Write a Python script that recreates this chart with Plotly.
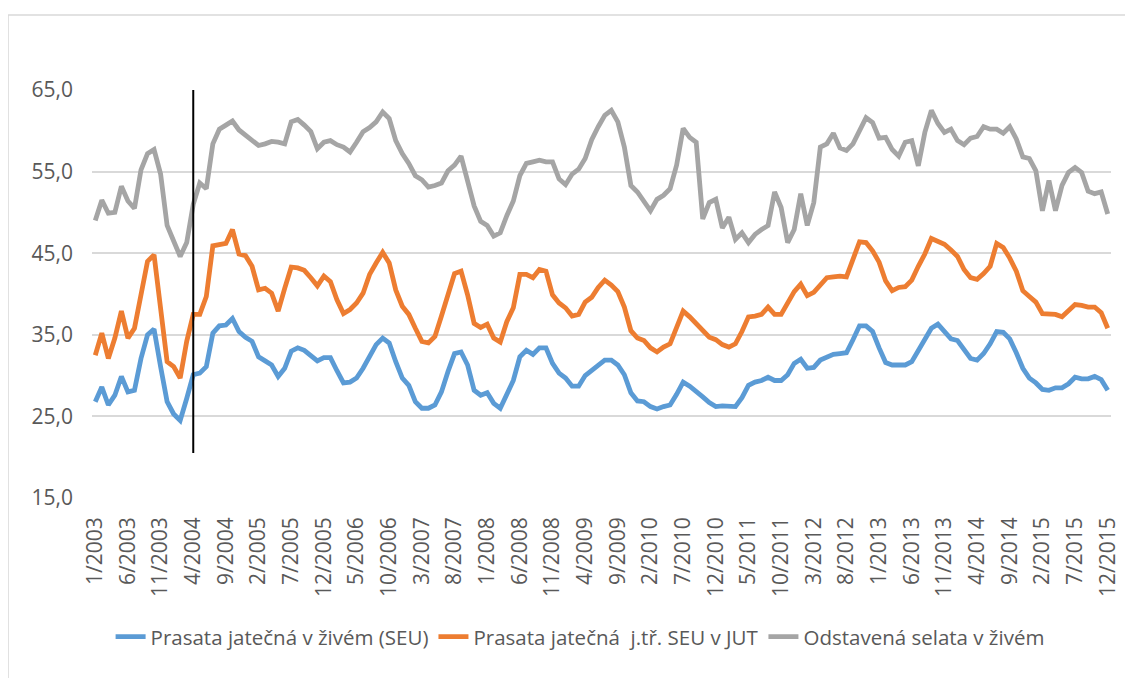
import plotly.graph_objects as go

years = list(range(2003, 2016))
months = [f"{m}/{y}" for y in years for m in range(1, 13)]

seu_live = [
    26.8, 28.6, 26.4, 27.6, 29.9, 28.0, 28.2, 32.1, 35.0, 35.7, 31.1, 26.8,
    25.3, 24.5, 27.2, 30.1, 30.3, 31.1, 35.2, 36.1, 36.2, 37.0, 35.4, 34.7,
    34.2, 32.3, 31.8, 31.3, 29.9, 30.9, 33.0, 33.4, 33.1, 32.5, 31.8, 32.2,
    32.2, 30.6, 29.1, 29.2, 29.7, 30.9, 32.5, 33.8, 34.6, 34.0, 31.7, 29.7,
    28.8, 26.8, 26.0, 26.0, 26.4, 28.0, 30.5, 32.7, 32.9, 31.3, 28.2, 27.6,
    27.9, 26.6, 26.0, 27.8, 29.4, 32.3, 33.1, 32.6, 33.4, 33.4, 31.5, 30.3,
    29.7, 28.7, 28.7, 30.0, 30.6, 31.3, 31.9, 31.9, 31.3, 30.1, 27.9, 26.9,
    26.8, 26.2, 25.9, 26.2, 26.4, 27.7, 29.2, 28.7, 28.1, 27.4, 26.7, 26.2,
    26.3, 26.2, 26.2, 27.3, 28.8, 29.2, 29.4, 29.8, 29.4, 29.4, 30.1, 31.5,
    32.0, 30.9, 31.0, 31.9, 32.3, 32.6, 32.7, 32.8, 34.4, 36.1, 36.1, 35.4,
    33.4, 31.6, 31.3, 31.3, 31.3, 31.7, 33.0, 34.5, 35.8, 36.3, 35.4, 34.5,
    34.3, 33.1, 32.1, 31.9, 32.7, 33.9, 35.4, 35.3, 34.5, 32.8, 30.9, 29.7,
    29.1, 28.3, 28.2, 28.5, 28.5, 29.0, 29.8, 29.6, 29.6, 29.9, 29.5, 28.2,
]

seu_jut = [
    32.5, 35.2, 32.1, 34.6, 37.9, 34.6, 35.8, 39.9, 44.0, 44.8, 38.3, 31.7,
    31.1, 29.7, 34.2, 37.5, 37.5, 39.7, 45.9, 46.1, 46.2, 47.9, 44.9, 44.7,
    43.4, 40.5, 40.7, 40.1, 37.9, 40.7, 43.3, 43.2, 42.9, 42.0, 41.0, 42.2,
    41.5, 39.3, 37.6, 38.1, 38.9, 40.1, 42.4, 43.8, 45.1, 43.8, 40.5, 38.5,
    37.5, 35.8, 34.2, 34.0, 34.8, 37.3, 39.9, 42.5, 42.8, 39.9, 36.4, 35.9,
    36.3, 34.6, 34.1, 36.6, 38.3, 42.4, 42.4, 42.0, 43.0, 42.8, 39.9, 38.9,
    38.3, 37.3, 37.5, 39.0, 39.6, 40.8, 41.7, 41.1, 40.3, 38.4, 35.5, 34.6,
    34.3, 33.4, 32.9, 33.5, 33.9, 35.8, 37.9, 37.2, 36.4, 35.6, 34.7, 34.4,
    33.8, 33.5, 33.9, 35.4, 37.2, 37.3, 37.5, 38.4, 37.5, 37.5, 38.9, 40.3,
    41.2, 39.8, 40.2, 41.0, 42.0, 42.1, 42.2, 42.1, 44.3, 46.4, 46.3, 45.3,
    43.9, 41.6, 40.4, 40.8, 40.9, 41.7, 43.4, 44.9, 46.8, 46.5, 46.1, 45.4,
    44.6, 43.0, 42.0, 41.8, 42.5, 43.4, 46.2, 45.7, 44.4, 42.8, 40.4, 39.7,
    39.0, 37.6, 37.5, 37.5, 37.2, 37.9, 38.7, 38.6, 38.4, 38.4, 37.7, 35.8,
]

piglets = [
    49.0, 51.5, 49.9, 50.0, 53.2, 51.4, 50.5, 55.2, 57.2, 57.7, 54.7, 48.4,
    46.5, 44.6, 46.3, 51.0, 53.6, 52.9, 58.4, 60.2, 60.7, 61.2, 60.1, 59.5,
    58.9, 58.2, 58.4, 58.7, 58.6, 58.4, 61.1, 61.4, 60.7, 59.9, 57.8, 58.6,
    58.8, 58.3, 58.0, 57.4, 58.6, 59.9, 60.4, 61.1, 62.3, 61.5, 58.8, 57.2,
    56.0, 54.5, 54.0, 53.1, 53.3, 53.6, 55.1, 55.8, 56.9, 53.9, 50.8, 48.9,
    48.4, 47.1, 47.5, 49.6, 51.4, 54.5, 56.0, 56.2, 56.4, 56.2, 56.2, 54.1,
    53.4, 54.7, 55.3, 56.6, 58.9, 60.5, 61.9, 62.5, 61.1, 58.0, 53.3, 52.5,
    51.3, 50.2, 51.6, 52.1, 52.9, 55.8, 60.3, 59.2, 58.6, 49.2, 51.2, 51.6,
    48.1, 49.4, 46.7, 47.5, 46.3, 47.3, 47.9, 48.4, 52.5, 50.6, 46.3, 47.9,
    52.3, 48.4, 51.2, 58.0, 58.4, 59.7, 57.9, 57.6, 58.4, 60.1, 61.6, 61.0,
    59.1, 59.2, 57.7, 56.9, 58.6, 58.8, 55.7, 59.8, 62.5, 60.9, 59.8, 60.2,
    58.8, 58.3, 59.1, 59.3, 60.5, 60.2, 60.2, 59.7, 60.5, 59.0, 56.8, 56.6,
    55.1, 50.2, 53.9, 50.2, 53.3, 54.9, 55.5, 54.9, 52.6, 52.3, 52.5, 49.8,
]

series_names = [
    "Prasata jatečná v živém (SEU)",
    "Prasata jatečná\u00a0 j.tř. SEU v JUT",
    "Odstavená selata v živém",
]
series_colors = ["#5B9BD5", "#ED7D31", "#A5A5A5"]
y_ticks = [15, 25, 35, 45, 55, 65]
marker_month = "4/2004"
marker_range = [20.5, 65]

FONT = "Open Sans"
TXT = "#595959"

fig = go.Figure()
for name, vals, col in zip(series_names, [seu_live, seu_jut, piglets], series_colors):
    fig.add_trace(go.Scatter(x=months, y=vals, mode="lines", name=name,
                             line=dict(color=col, width=4.8)))

fig.add_shape(type="line", xref="x", yref="y",
              x0=marker_month, x1=marker_month, y0=marker_range[0], y1=marker_range[1],
              line=dict(color="black", width=2))
# outer chart frame (top and left edges visible)
fig.add_shape(type="line", xref="paper", yref="paper", x0=-0.0824, x1=1.1, y0=1.1838, y1=1.1838,
              line=dict(color="#D9D9D9", width=1.5))
fig.add_shape(type="line", xref="paper", yref="paper", x0=-0.0824, x1=-0.0824, y0=1.1838, y1=-0.6,
              line=dict(color="#D9D9D9", width=1.5))

# the page body adds an 8px offset; margins compensate so the plot area lands where the reference has it
fig.update_layout(
    width=1125, height=670,
    margin=dict(l=84, r=22, t=82, b=180),
    paper_bgcolor="white", plot_bgcolor="white",
    font=dict(family=FONT, color=TXT, size=21),
    showlegend=True,
    legend=dict(orientation="h", x=0.479, xanchor="center", y=-0.34, yanchor="middle",
                font=dict(family=FONT, size=20.5, color=TXT), itemwidth=30,
                bgcolor="rgba(0,0,0,0)"),
    xaxis=dict(type="category", range=[-0.5, len(months) - 0.5],
               tickvals=months[::5], ticktext=months[::5], tickangle=-90,
               showgrid=False, zeroline=False, showline=False, ticks="",
               tickfont=dict(family=FONT, size=21, color=TXT), ticklabelstandoff=14),
    yaxis=dict(range=[15, 65], tickvals=y_ticks,
               ticktext=[f"{v:.1f}".replace(".", ",") for v in y_ticks],
               showgrid=True, gridcolor="#D9D9D9", gridwidth=1.5,
               zeroline=False, showline=False, ticks="",
               tickfont=dict(family=FONT, size=21, color=TXT), ticklabelstandoff=18),
)

fig.write_html("out.html")
